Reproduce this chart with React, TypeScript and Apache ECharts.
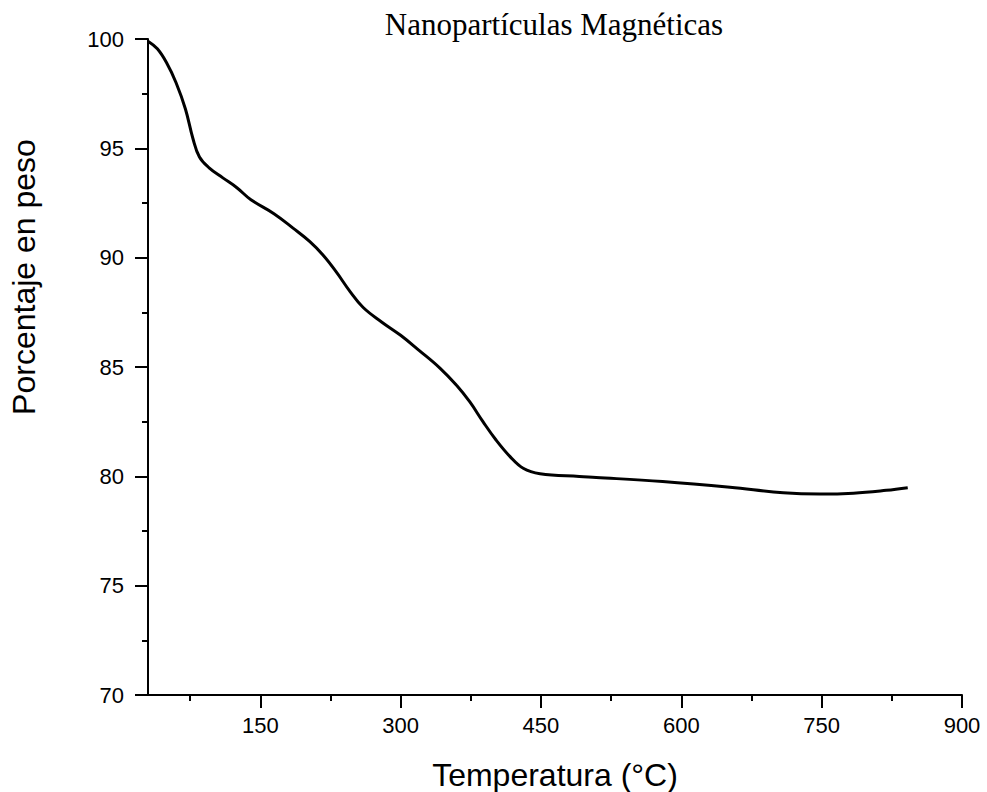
import React, { useEffect, useRef } from "react";
import * as echarts from "echarts";

const temperature = [30, 40, 50, 60, 70, 78, 85, 95, 110, 125, 140, 165, 185, 203, 217, 231, 246, 260, 280, 300, 320, 342, 360, 374, 388, 402, 417, 431, 449, 491, 509, 580, 652, 709, 748, 784, 819, 842];
const weightPct = [99.9, 99.55, 98.9, 98.0, 96.8, 95.45, 94.6, 94.12, 93.65, 93.2, 92.65, 92.0, 91.35, 90.73, 90.12, 89.36, 88.45, 87.72, 87.05, 86.45, 85.75, 84.95, 84.15, 83.4, 82.5, 81.66, 80.9, 80.37, 80.12, 79.99, 79.95, 79.76, 79.5, 79.25, 79.19, 79.23, 79.36, 79.48];
const xMajorTicks = [150, 300, 450, 600, 750, 900];
const xMinorTicks = [75, 225, 375, 525, 675, 825];

const title = "Nanopartículas Magnéticas";
const xName = "Temperatura (°C)";
const yName = "Porcentaje en peso";

const SANS = "'Liberation Sans', Arial, sans-serif";

export default function App() {
  const ref = useRef<HTMLDivElement>(null);
  useEffect(() => {
    if (!ref.current) return;
    const chart = echarts.init(ref.current, undefined, { renderer: "svg" });
    const data = temperature.map((t, i) => [t, weightPct[i]]);
    chart.setOption({
      animation: false,
      backgroundColor: "#ffffff",
      grid: { left: 148, right: 25, top: 39, bottom: 97, containLabel: false },
      xAxis: [
        {
          type: "value",
          min: 30,
          max: 900,
          splitLine: { show: false },
          axisLine: { show: true, onZero: false, lineStyle: { color: "#000", width: 2 } },
          axisTick: { show: true, customValues: xMajorTicks, length: 13, lineStyle: { color: "#000", width: 2 } },
          axisLabel: { customValues: xMajorTicks, color: "#000", fontSize: 22, fontFamily: SANS, margin: 19 },
        },
        {
          type: "value",
          min: 30,
          max: 900,
          position: "bottom",
          splitLine: { show: false },
          axisLine: { show: false, onZero: false },
          axisTick: { show: true, customValues: xMinorTicks, length: 6, lineStyle: { color: "#000", width: 2 } },
          axisLabel: { show: false },
        },
      ],
      yAxis: {
        type: "value",
        min: 70,
        max: 100,
        interval: 5,
        splitLine: { show: false },
        axisLine: { show: true, onZero: false, lineStyle: { color: "#000", width: 2 } },
        axisTick: { show: true, length: 13, lineStyle: { color: "#000", width: 2 } },
        minorTick: { show: true, splitNumber: 2, length: 6, lineStyle: { color: "#000", width: 2 } },
        axisLabel: { color: "#000", fontSize: 22, fontFamily: SANS, margin: 24 },
      },
      graphic: [
        {
          type: "text",
          x: 554,
          y: 24,
          style: {
            text: title,
            fill: "#000",
            font: "31px 'Liberation Serif', 'Times New Roman', serif",
            textAlign: "center",
            textVerticalAlign: "middle",
          },
        },
        {
          type: "text",
          x: 555,
          y: 775,
          style: {
            text: xName,
            fill: "#000",
            font: `32px ${SANS}`,
            textAlign: "center",
            textVerticalAlign: "middle",
          },
        },
        {
          type: "text",
          x: 24,
          y: 277,
          rotation: Math.PI / 2,
          style: {
            text: yName,
            fill: "#000",
            font: `32px ${SANS}`,
            textAlign: "center",
            textVerticalAlign: "middle",
          },
        },
      ],
      series: [
        {
          type: "line",
          xAxisIndex: 0,
          data,
          smooth: 0.4,
          showSymbol: false,
          lineStyle: { color: "#000", width: 3 },
          silent: true,
        },
      ],
    });
    return () => chart.dispose();
  }, []);
  return <div ref={ref} style={{ width: 987, height: 792, position: "absolute", left: 0, top: 0 }} />;
}
